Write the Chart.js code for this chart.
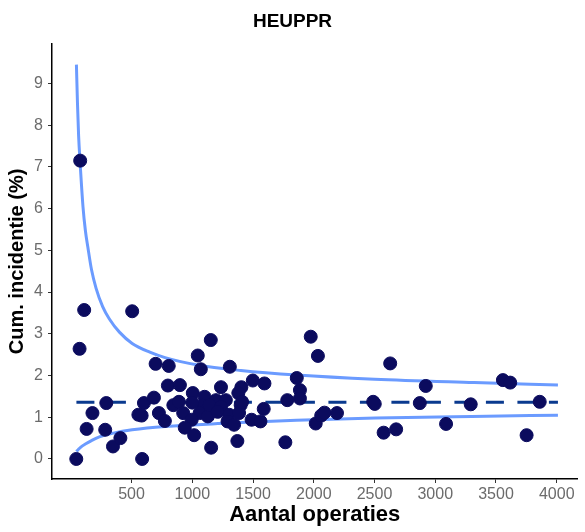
<!DOCTYPE html>
<html lang="nl">
<head>
  <meta charset="UTF-8">
  <title>HEUPPR</title>
  <script src="https://cdn.jsdelivr.net/npm/chart.js"></script>
  <style>
    body {
      margin: 0;
      background: #fff;
      overflow: hidden;
    }
    #wrap {
      width: 585px;
      height: 532px;
    }
  </style>
</head>
<body>
<div id="wrap">
  <canvas id="funnelChart" width="585" height="532"></canvas>
</div>

<script>
// hospitals: number of operations and cumulative incidence (%)
const operaties = [45, 72, 77, 110, 130, 178, 283, 292, 347, 408, 505, 556, 583, 587, 602, 684, 698, 806, 799, 898,
  725, 774, 844, 890, 925, 1004, 1045, 1070, 1152, 1101, 1089, 1060, 995, 938, 1015, 1128, 1155, 1309, 1236, 1404,
  1498, 1594, 1379, 1195, 1276, 1141, 1236, 1398, 1209, 1304, 1385, 1588, 1290, 1344, 1488, 1561, 1371, 1782, 1766, 1860,
  1886, 1886, 1975, 2034, 2016, 2061, 2088, 2191, 2489, 2502, 2629, 2575, 2678, 2922, 2873, 3089, 3292, 3557, 3617, 3752,
  3860, 1000, 1410];
const incidentie = [0.00, 2.64, 7.15, 3.57, 0.72, 1.10, 0.70, 1.34, 0.30, 0.50, 3.54, 1.06, 1.04, 0.00, 1.34, 1.47, 2.28, 2.23, 1.76, 1.77,
  1.10, 0.91, 1.29, 1.37, 1.10, 1.58, 2.48, 2.15, 2.85, 1.49, 1.29, 1.10, 0.94, 0.75, 0.57, 1.02, 0.27, 2.21, 1.72, 1.72,
  1.88, 1.81, 1.58, 1.41, 1.41, 1.29, 1.25, 1.29, 1.13, 1.06, 1.10, 1.20, 0.90, 0.82, 0.94, 0.90, 0.43, 1.41, 0.40, 1.94,
  1.65, 1.45, 2.93, 2.47, 0.85, 1.04, 1.11, 1.10, 1.37, 1.32, 2.29, 0.63, 0.71, 1.75, 1.34, 0.84, 1.31, 1.89, 1.83, 0.57,
  1.37, 1.35, 1.37];

// funnel limits
const upperX = [46, 55, 64, 76, 100, 120, 140, 170, 208, 262, 316, 400, 505, 650, 776, 1046, 1400, 1858, 2500, 3320, 4010];
const upperY = [9.45, 8.5, 7.75, 7.12, 6.05, 5.47, 5.08, 4.54, 4.09, 3.65, 3.36, 3.04, 2.77, 2.56, 2.43, 2.25, 2.12, 2.01, 1.91, 1.83, 1.77];
const lowerX = [46, 60, 80, 127, 170, 235, 350, 505, 776, 1317, 1858, 2508, 3300, 4010];
const lowerY = [0.18, 0.22, 0.28, 0.37, 0.44, 0.53, 0.62, 0.70, 0.78, 0.86, 0.93, 0.98, 1.02, 1.05];

const meanX = [46, 4010];
const meanValue = 1.36;

const xTicks = [500, 1000, 1500, 2000, 2500, 3000, 3500, 4000];
const yTicks = [0, 1, 2, 3, 4, 5, 6, 7, 8, 9];

const pair = (xs, ys) => xs.map((x, i) => ({ x, y: ys[i] }));
const FONT = 'Liberation Sans, Arial, sans-serif';

const ctx = document.getElementById('funnelChart').getContext('2d');
new Chart(ctx, {
  type: 'scatter',
  data: {
    datasets: [
      {
        label: 'ziekenhuizen',
        data: pair(operaties, incidentie),
        backgroundColor: '#0b0b5e',
        borderColor: '#0b0b5e',
        pointRadius: 6.5,
        order: 0
      },
      {
        label: 'bovengrens',
        type: 'line',
        data: pair(upperX, upperY),
        borderColor: '#6b9bff',
        borderWidth: 3,
        pointRadius: 0,
        cubicInterpolationMode: 'monotone',
        fill: false,
        order: 2
      },
      {
        label: 'ondergrens',
        type: 'line',
        data: pair(lowerX, lowerY),
        borderColor: '#6b9bff',
        borderWidth: 3,
        pointRadius: 0,
        cubicInterpolationMode: 'monotone',
        fill: false,
        order: 2
      },
      {
        label: 'gemiddelde',
        type: 'line',
        data: meanX.map(x => ({ x, y: meanValue })),
        borderColor: '#0a3a8f',
        borderWidth: 3,
        borderDash: [18, 13.5],
        pointRadius: 0,
        fill: false,
        order: 1
      }
    ]
  },
  options: {
    responsive: false,
    animation: false,
    layout: { padding: 0 },
    plugins: {
      legend: { display: false },
      tooltip: { enabled: false },
      title: {
        display: true,
        text: 'HEUPPR',
        color: '#000',
        font: { family: FONT, size: 19, weight: 'bold' },
        padding: { top: 10, bottom: 11 }
      }
    },
    scales: {
      x: {
        type: 'linear',
        min: -155,
        max: 4171,
        afterFit: (s) => { s.height = 53; },
        afterBuildTicks: (s) => { s.ticks = xTicks.map(v => ({ value: v })); },
        grid: { drawOnChartArea: false, drawTicks: true, tickLength: 4, color: '#333', lineWidth: 1 },
        border: { display: true, color: '#000', width: 1.5 },
        ticks: {
          color: '#6b6b6b',
          padding: 2,
          maxRotation: 0,
          callback: (v) => String(v),
          font: { family: FONT, size: 16 }
        },
        title: {
          display: true,
          text: 'Aantal operaties',
          color: '#000',
          font: { family: FONT, size: 22, weight: 'bold' },
          padding: { top: 4, bottom: 4 }
        }
      },
      y: {
        type: 'linear',
        min: -0.48,
        max: 9.95,
        afterFit: (s) => { s.width = 52; },
        afterBuildTicks: (s) => { s.ticks = yTicks.map(v => ({ value: v })); },
        grid: { drawOnChartArea: false, drawTicks: true, tickLength: 4, color: '#333', lineWidth: 1 },
        border: { display: true, color: '#000', width: 1.5 },
        ticks: {
          color: '#6b6b6b',
          padding: 5,
          callback: (v) => String(v),
          font: { family: FONT, size: 16 }
        },
        title: {
          display: true,
          text: 'Cum. incidentie (%)',
          color: '#000',
          font: { family: FONT, size: 20, weight: 'bold' },
          padding: { top: 5, bottom: 5 }
        }
      }
    }
  }
});
</script>
</body>
</html>
